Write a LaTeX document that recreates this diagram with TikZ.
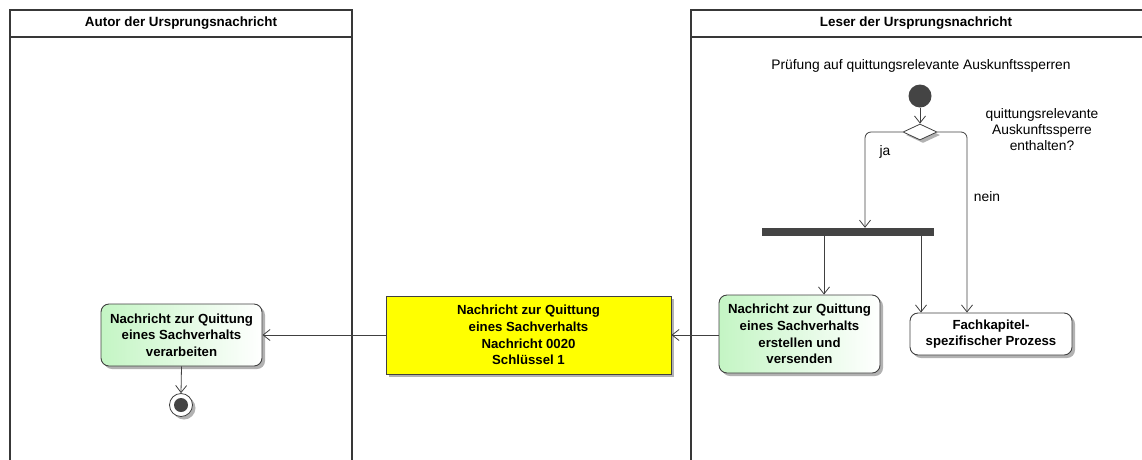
\documentclass[tikz,border=0pt]{standalone}
\usepackage{fontspec}
\setmainfont{Liberation Sans}
\usetikzlibrary{arrows.meta,shapes.geometric,shadows}
\definecolor{lanec}{HTML}{383838}
\definecolor{linec}{HTML}{404040}
\definecolor{barc}{HTML}{444444}
\definecolor{greenc}{HTML}{C4F5C4}
\definecolor{yellowc}{HTML}{FFFF00}
\tikzset{
  lane/.style={draw=lanec,line width=1.6pt},
  arr/.style={draw=linec,line width=0.8pt,-{Straight Barb[length=7pt,width=11pt,line width=0.8pt]}},
  sh/.style={drop shadow={shadow xshift=3pt,shadow yshift=-3pt,fill=black!30,opacity=1}},
  act/.style={draw=linec,line width=0.9pt,rounded corners=8pt,align=center,inner sep=0pt,
    font=\bfseries\fontsize{13.2}{16.7}\selectfont,sh},
  greenact/.style={act,left color=greenc,right color=white},
  lbl/.style={font=\fontsize{13.8}{16}\selectfont,align=center,inner sep=0pt},
  head/.style={font=\bfseries\fontsize{13.4}{15}\selectfont,inner sep=0pt}
}
\begin{document}
\begin{tikzpicture}[x=1pt,y=-1pt]
\useasboundingbox (0,0) rectangle (1142,459);
% lanes
\draw[lane] (10,470) -- (10,10) -- (352,10) -- (352,470);
\draw[lane] (10,37) -- (352,37);
\draw[lane] (691,470) -- (691,10) -- (1150,10);
\draw[lane] (691,37) -- (1150,37);
\node[head] (h1) at (181,23) {Autor der Ursprungsnachricht};
\node[head] (h2) at (916,23) {Leser der Ursprungsnachricht};

% right lane content
\node[lbl] (title) at (921,66) {Prüfung auf quittungsrelevante Auskunftssperren};
\node[circle,fill=barc,minimum size=23pt,inner sep=0pt] (start) at (920,96) {};
\node[diamond,draw=linec,line width=0.8pt,fill=white,minimum width=34pt,minimum height=16pt,inner sep=0pt,sh] (dia) at (920,132) {};
\node[lbl] (q) at (1042,130) {quittungsrelevante\\Auskunftssperre\\enthalten?};
\node[rectangle,fill=barc,minimum width=172pt,minimum height=8pt,inner sep=0pt] (bar) at (848,232) {};
\node[greenact,minimum width=161pt,minimum height=78pt] (send) at (799.5,334) {Nachricht zur Quittung\\eines Sachverhalts\\erstellen und\\versenden};
\node[act,fill=white,minimum width=162pt,minimum height=42pt] (fach) at (991,334) {Fachkapitel-\\spezifischer Prozess};
\node[draw=linec,line width=0.9pt,fill=yellowc,minimum width=285pt,minimum height=78pt,align=center,inner sep=0pt,
  font=\bfseries\fontsize{13.2}{16.7}\selectfont,sh] (msg) at (528.5,335) {Nachricht zur Quittung\\eines Sachverhalts\\Nachricht 0020\\Schlüssel 1};
\node[greenact,minimum width=161pt,minimum height=62pt] (proc) at (181.5,335) {Nachricht zur Quittung\\eines Sachverhalts\\verarbeiten};
\node[circle,draw=linec,line width=0.8pt,fill=white,minimum size=23pt,inner sep=0pt,sh] (end) at (181,405) {};
\node[circle,fill=barc,minimum size=14pt,inner sep=0pt] (endin) at (end.center) {};

% coordinates for bends
\coordinate (jax) at (865,0);
\coordinate (neinx) at (967,0);
\coordinate (b1x) at (824,0);
\coordinate (b2x) at (921,0);

% connectors
\draw[arr] (start) -- (dia.north);
\draw[arr,rounded corners=6pt] (dia.west) -| (bar.north -| jax);
\draw[arr,rounded corners=6pt] (dia.east) -| (fach.north -| neinx);
\node[lbl] (ja) at (885,152) {ja};
\node[lbl] (nein) at (987,197) {nein};
\draw[arr] (bar.south -| b1x) -- (send.north -| b1x);
\draw[arr] (bar.south -| b2x) -- (fach.north -| b2x);
\draw[arr] (msg.east -| send.west) -- (msg.east);
\draw[arr] (msg.west) -- (proc.east);
\draw[arr] (proc.south) -- (end.north);
\end{tikzpicture}
\end{document}
